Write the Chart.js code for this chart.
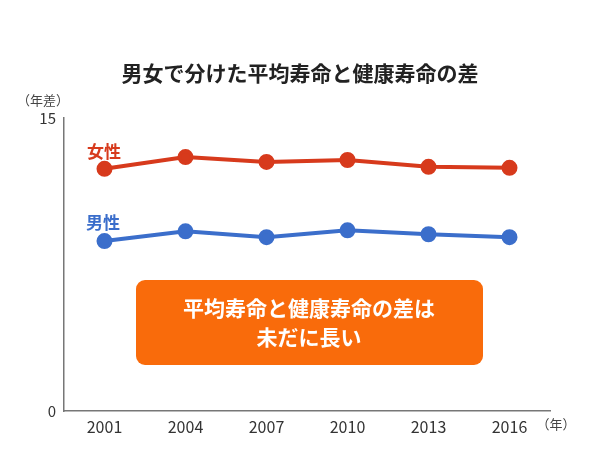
<!DOCTYPE html>
<html><head><meta charset="utf-8">
<script src="https://cdn.jsdelivr.net/npm/chart.js@4/dist/chart.umd.min.js"></script>
<style>body{margin:0;background:#fff}</style>
</head><body><canvas id="c" width="600" height="450"></canvas>
<script>
const years = ['2001', '2004', '2007', '2010', '2013', '2016'];
const female = [12.4, 13.0, 12.75, 12.85, 12.5, 12.45];
const male = [8.7, 9.2, 8.9, 9.25, 9.05, 8.9];
const yTicks = [0, 15];

const FONT = '"Noto Sans CJK JP", "Noto Sans", sans-serif';
const RED = '#d73a1c', BLUE = '#3b6ecb';

// titre, unités, libellés et encadré
const decor = {
    id: 'decor',
    afterDraw(chart) {
        const ctx = chart.ctx;
        ctx.save();
        ctx.fillStyle = '#222';
        ctx.font = 'bold 21px ' + FONT;
        ctx.textAlign = 'center';
        ctx.textBaseline = 'middle';
        ctx.fillText('男女で分けた平均寿命と健康寿命の差', 300, 73);
        ctx.font = '13px ' + FONT;
        ctx.fillStyle = '#444';
        ctx.fillText('（年差）', 43, 100);
        ctx.fillText('（年）', 556, 424);
        ctx.font = 'bold 17px ' + FONT;
        ctx.fillStyle = RED;
        ctx.fillText('女性', 104, 152);
        ctx.fillStyle = BLUE;
        ctx.fillText('男性', 103, 223);
        // encadré orange
        ctx.fillStyle = '#f96b0b';
        ctx.beginPath();
        ctx.roundRect(136, 280, 347, 85, 9);
        ctx.fill();
        ctx.fillStyle = '#fff';
        ctx.font = 'bold 21px ' + FONT;
        ctx.fillText('平均寿命と健康寿命の差は', 309, 308);
        ctx.fillText('未だに長い', 309, 337);
        ctx.restore();
    }
};

new Chart(document.getElementById('c'), {
    type: 'line',
    data: {
        labels: years,
        datasets: [
            { data: female, borderColor: RED, backgroundColor: RED, borderWidth: 4, pointRadius: 6, pointHoverRadius: 6 },
            { data: male, borderColor: BLUE, backgroundColor: BLUE, borderWidth: 4, pointRadius: 6, pointHoverRadius: 6 }
        ]
    },
    options: {
        responsive: false,
        animation: false,
        layout: { padding: { top: 118, right: 50, left: 0, bottom: 0 } },
        plugins: { legend: { display: false }, tooltip: { enabled: false } },
        scales: {
            x: {
                offset: true,
                grid: { display: false, drawTicks: false },
                border: { color: '#777', width: 1.5 },
                ticks: { color: '#333', font: { size: 16, family: FONT }, padding: 6 },
                afterFit(s) { s.height = 39; }
            },
            y: {
                min: 0, max: 15,
                afterBuildTicks(s) { s.ticks = yTicks.map(v => ({ value: v })); },
                grid: { display: false, drawTicks: false },
                border: { color: '#777', width: 1.5 },
                ticks: { color: '#333', font: { size: 15, family: FONT }, padding: 8 },
                afterFit(s) { s.width = 64; }
            }
        }
    },
    plugins: [decor]
});
</script></body></html>
